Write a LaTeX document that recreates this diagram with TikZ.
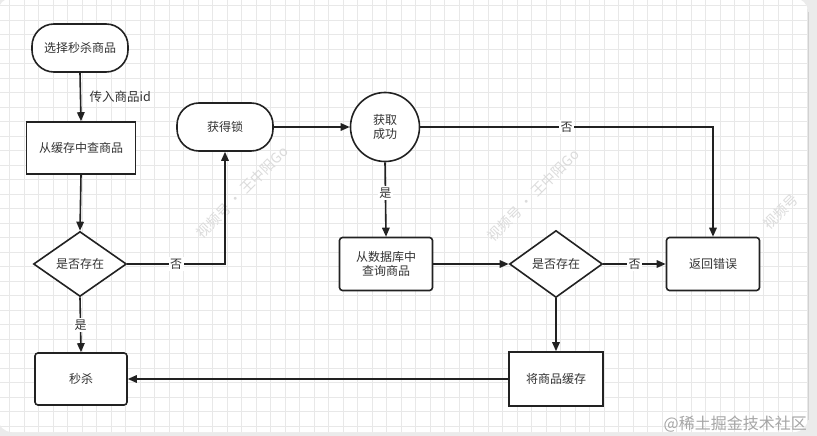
\documentclass[tikz,border=0pt]{standalone}
\usepackage{fontspec}
\setmainfont{Noto Sans CJK SC}
\usetikzlibrary{shapes.geometric,arrows.meta}
\definecolor{txt}{HTML}{333333}
\definecolor{ln}{HTML}{222222}
\begin{document}
\begin{tikzpicture}[x=1pt,y=-1pt,
  font=\fontsize{12}{14}\selectfont, text=txt,
  base/.style={draw=ln, line width=1.6pt, fill=white, inner sep=0pt, align=center},
  pill/.style={base, rounded corners=22pt, minimum width=96pt, minimum height=48pt},
  sharp/.style={base, minimum width=109pt, minimum height=52pt},
  rbox/.style={base, rounded corners=3pt, minimum width=93pt, minimum height=53pt},
  dia/.style={base, diamond, minimum width=93pt, minimum height=65pt},
  circ/.style={base, circle, minimum size=69pt},
  conn/.style={draw=ln, line width=1.6pt, -{Triangle[length=9pt,width=7.5pt]}},
  lab/.style={fill=white, inner sep=1.5pt, font=\fontsize{12}{13}\selectfont},
  gridl/.style={draw=black!9, line width=0.5pt},
  wm/.style={text=black!14, font=\fontsize{14}{16}\selectfont, rotate=45}
]
\useasboundingbox (0,0) rectangle (817,436);
\fill[black!8] (0,0) rectangle (817,436);
\fill[white, rounded corners=14pt] (-2,-2) rectangle (808,432);
\begin{scope}
\clip[rounded corners=14pt] (-2,-2) rectangle (808,432);
\foreach \i in {0,...,55} \draw[gridl] ({9.5+14.5*\i},0) -- ({9.5+14.5*\i},436);
\foreach \j in {0,...,30} \draw[gridl] (0,{5.5+14.5*\j}) -- (817,{5.5+14.5*\j});
\end{scope}
\node[wm] (w1) at (242,192) {视频号 · 王中阳Go};
\node[wm] (w2) at (533,195) {视频号 · 王中阳Go};
\node[wm] (w3) at (781,212) {视频号};
\draw[black!18, line width=0.6pt] (808,12) -- (808,420);

% nodes
\node[pill]  (n1) at (80,48)  {选择秒杀商品};
\node[sharp] (n2) at (81,148) {从缓存中查商品};
\node[dia]   (d1) at (80,264) {是否存在};
\node[rbox, minimum width=92pt, minimum height=52pt] (n4) at (81,379) {秒杀};
\node[pill]  (n5) at (225,127) {获得锁};
\node[circ]  (c1) at (385,127) {获取\\成功};
\node[rbox]  (n6) at (386,264) {从数据库中\\查询商品};
\node[dia, minimum height=67pt] (d2) at (556,264) {是否存在};
\node[rbox]  (n7) at (713,264) {返回错误};
\node[sharp, minimum width=94pt, minimum height=54pt] (n8) at (556,379) {将商品缓存};

\coordinate (k1) at (225,264);
\coordinate (k2) at (713,127);

% connectors
\draw[conn] (n1.south) -- (n2.north) node[midway, right=5pt, font=\fontsize{12.5}{13}\selectfont] {传入商品id};
\draw[conn] (n2.south) -- (d1.north);
\draw[conn] (d1.south) -- (n4.north) node[pos=0.5, lab] {是};
\draw[conn] (d1.east) -- (k1) node[pos=0.5, lab] {否} -- (n5.south);
\draw[conn] (n5.east) -- (c1.west);
\draw[conn] (c1.south) -- (n6.north) node[pos=0.41, lab] {是};
\draw[conn] (c1.east) -- (k2) node[pos=0.5, lab] {否} -- (n7.north);
\draw[conn] (n6.east) -- (d2.west);
\draw[conn] (d2.east) -- (n7.west) node[pos=0.5, lab] {否};
\draw[conn] (d2.south) -- (n8.north);
\draw[conn] (n8.west) -- (n4.east);

\node[anchor=east, text=black!35, font=\fontsize{16}{18}\selectfont, inner sep=0pt] (wmk) at (807,424) {@稀土掘金技术社区};
\end{tikzpicture}
\end{document}
